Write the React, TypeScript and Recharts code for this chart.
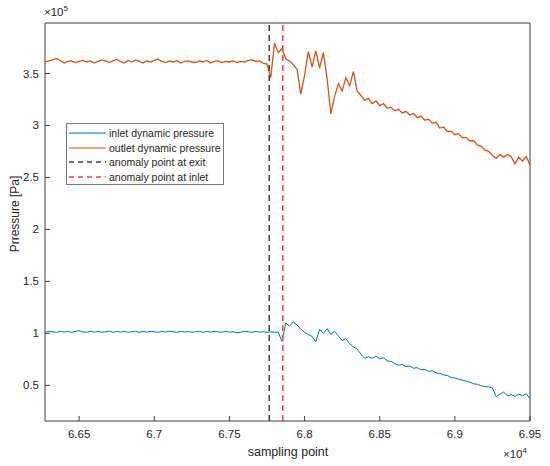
import React from "react";
import {
  LineChart,
  Line,
  XAxis,
  YAxis,
  ReferenceLine,
} from "recharts";

// sampling grid: every 25 samples from 66275 to 69500
const firstSample = 66275;
const sampleStep = 25;

// outlet dynamic pressure, x1e5 Pa
const outletPressure = [
  3.61, 3.62, 3.63, 3.645, 3.625, 3.6, 3.615, 3.62, 3.605, 3.615,
  3.625, 3.61, 3.62, 3.6, 3.615, 3.63, 3.62, 3.605, 3.62, 3.635,
  3.615, 3.6, 3.625, 3.61, 3.63, 3.615, 3.6, 3.62, 3.61, 3.625,
  3.64, 3.615, 3.605, 3.62, 3.61, 3.625, 3.6, 3.615, 3.62, 3.61,
  3.605, 3.62, 3.61, 3.625, 3.6, 3.615, 3.62, 3.605, 3.615, 3.61,
  3.62, 3.605, 3.615, 3.61, 3.625, 3.63, 3.615, 3.62, 3.6, 3.59,
  3.46, 3.79, 3.7, 3.74, 3.64, 3.62, 3.585, 3.54, 3.3, 3.48,
  3.71, 3.56, 3.72, 3.55, 3.7, 3.45, 3.11, 3.28, 3.4, 3.33,
  3.46, 3.38, 3.52, 3.33, 3.29, 3.24, 3.26, 3.21, 3.235, 3.19,
  3.21, 3.165, 3.175, 3.14, 3.155, 3.12, 3.135, 3.1, 3.115, 3.075,
  3.09, 3.05, 3.06, 3.02, 3.03, 2.975, 2.985, 2.94, 2.945, 2.91,
  2.92, 2.88, 2.885, 2.85, 2.855, 2.81, 2.8, 2.765, 2.75, 2.71,
  2.685, 2.72, 2.695, 2.72, 2.7, 2.63, 2.695, 2.655, 2.7, 2.62,
];

// inlet dynamic pressure, x1e5 Pa
const inletPressure = [
  1.01, 1.02, 1.015, 1.01, 1.02, 1.012, 1.018, 1.01, 1.02, 1.025,
  1.015, 1.01, 1.02, 1.012, 1.018, 1.01, 1.015, 1.022, 1.01, 1.018,
  1.012, 1.02, 1.01, 1.015, 1.02, 1.01, 1.018, 1.012, 1.02, 1.015,
  1.01, 1.018, 1.012, 1.02, 1.015, 1.01, 1.02, 1.012, 1.018, 1.01,
  1.015, 1.02, 1.01, 1.018, 1.012, 1.02, 1.015, 1.01, 1.018, 1.012,
  1.015, 1.005, 1.012, 1.02, 1.015, 1.01, 1.018, 1.012, 1.015, 1.01,
  1.015, 1.01, 1.012, 0.92, 1.1, 1.07, 1.11, 1.08, 1.04, 1.01,
  0.99, 0.97, 0.92, 1.04, 1.0, 1.045, 0.99, 1.02, 0.975, 0.93,
  0.95, 0.9, 0.87, 0.85, 0.8, 0.76, 0.775, 0.76, 0.78, 0.755,
  0.765, 0.735, 0.73, 0.71, 0.695, 0.7, 0.68, 0.685, 0.665, 0.67,
  0.65, 0.655, 0.635, 0.64, 0.62, 0.615, 0.6, 0.595, 0.575, 0.57,
  0.56, 0.55, 0.54, 0.53, 0.515, 0.51, 0.495, 0.49, 0.485, 0.475,
  0.39, 0.415, 0.435, 0.4, 0.41, 0.395, 0.415, 0.4, 0.42, 0.37,
];

const exitAnomaly = 67765;
const inletAnomaly = 67855;

const xTicks = [66500, 67000, 67500, 68000, 68500, 69000, 69500];
const yTicks = [0.5, 1, 1.5, 2, 2.5, 3, 3.5];

const data = outletPressure.map((outlet, i) => ({
  sample: firstSample + i * sampleStep,
  outlet,
  inlet: inletPressure[i],
}));

const axisColor = "#404040";
const textColor = "#262626";
const font = "'Liberation Sans', Arial, sans-serif";

const legendItems = [
  { label: "inlet dynamic pressure", color: "#0072BD", dash: undefined },
  { label: "outlet dynamic pressure", color: "#D95319", dash: undefined },
  { label: "anomaly point at exit", color: "#404040", dash: "5 4" },
  { label: "anomaly point at inlet", color: "#FF4040", dash: "5 4" },
];

function LegendBox() {
  return (
    <div
      style={{
        position: "absolute",
        left: 66,
        top: 123,
        boxSizing: "border-box",
        width: 158,
        height: 62,
        border: "1px solid #7a7a7a",
        background: "#fff",
        padding: "2px 0",
        fontFamily: font,
        fontSize: 10.5,
        color: textColor,
      }}
    >
      {legendItems.map((item) => (
        <div key={item.label} style={{ display: "flex", alignItems: "center", height: 14.5 }}>
          <svg width={42} height={10} style={{ flex: "none" }}>
            <line
              x1={2}
              x2={39}
              y1={5}
              y2={5}
              stroke={item.color}
              strokeWidth={item.dash ? 1.5 : 1}
              strokeDasharray={item.dash}
            />
          </svg>
          <span>{item.label}</span>
        </div>
      ))}
    </div>
  );
}

export default function App() {
  const tickStyle = { fontSize: 11.5, fill: textColor, fontFamily: font };
  return (
    <div style={{ position: "relative", width: 550, height: 466, background: "#fff" }}>
      <style>{`body{margin:0}`}</style>
      <LineChart
        width={550}
        height={466}
        data={data}
        margin={{ top: 22, right: 19, left: 0, bottom: 15 }}
      >
        <XAxis
          dataKey="sample"
          type="number"
          domain={[66273, 69500]}
          ticks={xTicks}
          allowDataOverflow
          height={30}
          tickSize={-5}
          tickMargin={14}
          tick={tickStyle}
          tickFormatter={(v: number) => String(v / 10000)}
          stroke={axisColor}
        />
        <XAxis
          xAxisId="top"
          dataKey="sample"
          type="number"
          orientation="top"
          domain={[66273, 69500]}
          ticks={xTicks}
          allowDataOverflow
          height={1}
          tickSize={-5}
          tick={false}
          stroke={axisColor}
        />
        <YAxis
          type="number"
          domain={[0.157, 3.985]}
          ticks={yTicks}
          allowDataOverflow
          width={45}
          tickSize={-5}
          tickMargin={11}
          tick={tickStyle}
          stroke={axisColor}
        />
        <YAxis
          yAxisId="right"
          type="number"
          orientation="right"
          domain={[0.157, 3.985]}
          ticks={yTicks}
          allowDataOverflow
          width={1}
          tickSize={-5}
          tick={false}
          stroke={axisColor}
        />
        {/* invisible copy so the box axes (top/right) get drawn */}
        <Line
          xAxisId="top"
          yAxisId="right"
          dataKey="inlet"
          stroke="none"
          dot={false}
          legendType="none"
          isAnimationActive={false}
        />
        <Line
          dataKey="inlet"
          stroke="#0072BD"
          strokeWidth={1}
          dot={false}
          isAnimationActive={false}
        />
        <Line
          dataKey="outlet"
          stroke="#D95319"
          strokeWidth={1.3}
          dot={false}
          isAnimationActive={false}
        />
        <ReferenceLine x={exitAnomaly} stroke="#404040" strokeWidth={1.5} strokeDasharray="6 4" />
        <ReferenceLine x={inletAnomaly} stroke="#FF4040" strokeWidth={1.5} strokeDasharray="6 4" />
      </LineChart>
      <LegendBox />
      <span
        style={{
          position: "absolute",
          left: 288,
          top: 452,
          transform: "translate(-50%, -50%)",
          fontFamily: font,
          fontSize: 12.5,
          color: textColor,
          whiteSpace: "nowrap",
        }}
      >
        sampling point
      </span>
      <span
        style={{
          position: "absolute",
          left: 15,
          top: 214,
          transform: "translate(-50%, -50%) rotate(-90deg)",
          fontFamily: font,
          fontSize: 12,
          color: textColor,
          whiteSpace: "nowrap",
        }}
      >
        Prressure [Pa]
      </span>
      <span
        style={{
          position: "absolute",
          left: 44,
          top: 4,
          fontFamily: font,
          fontSize: 11.5,
          color: textColor,
          whiteSpace: "nowrap",
        }}
      >
        ×10<sup style={{ fontSize: 8 }}>5</sup>
      </span>
      <span
        style={{
          position: "absolute",
          left: 503,
          top: 446,
          fontFamily: font,
          fontSize: 11.5,
          color: textColor,
          whiteSpace: "nowrap",
        }}
      >
        ×10<sup style={{ fontSize: 8 }}>4</sup>
      </span>
    </div>
  );
}
